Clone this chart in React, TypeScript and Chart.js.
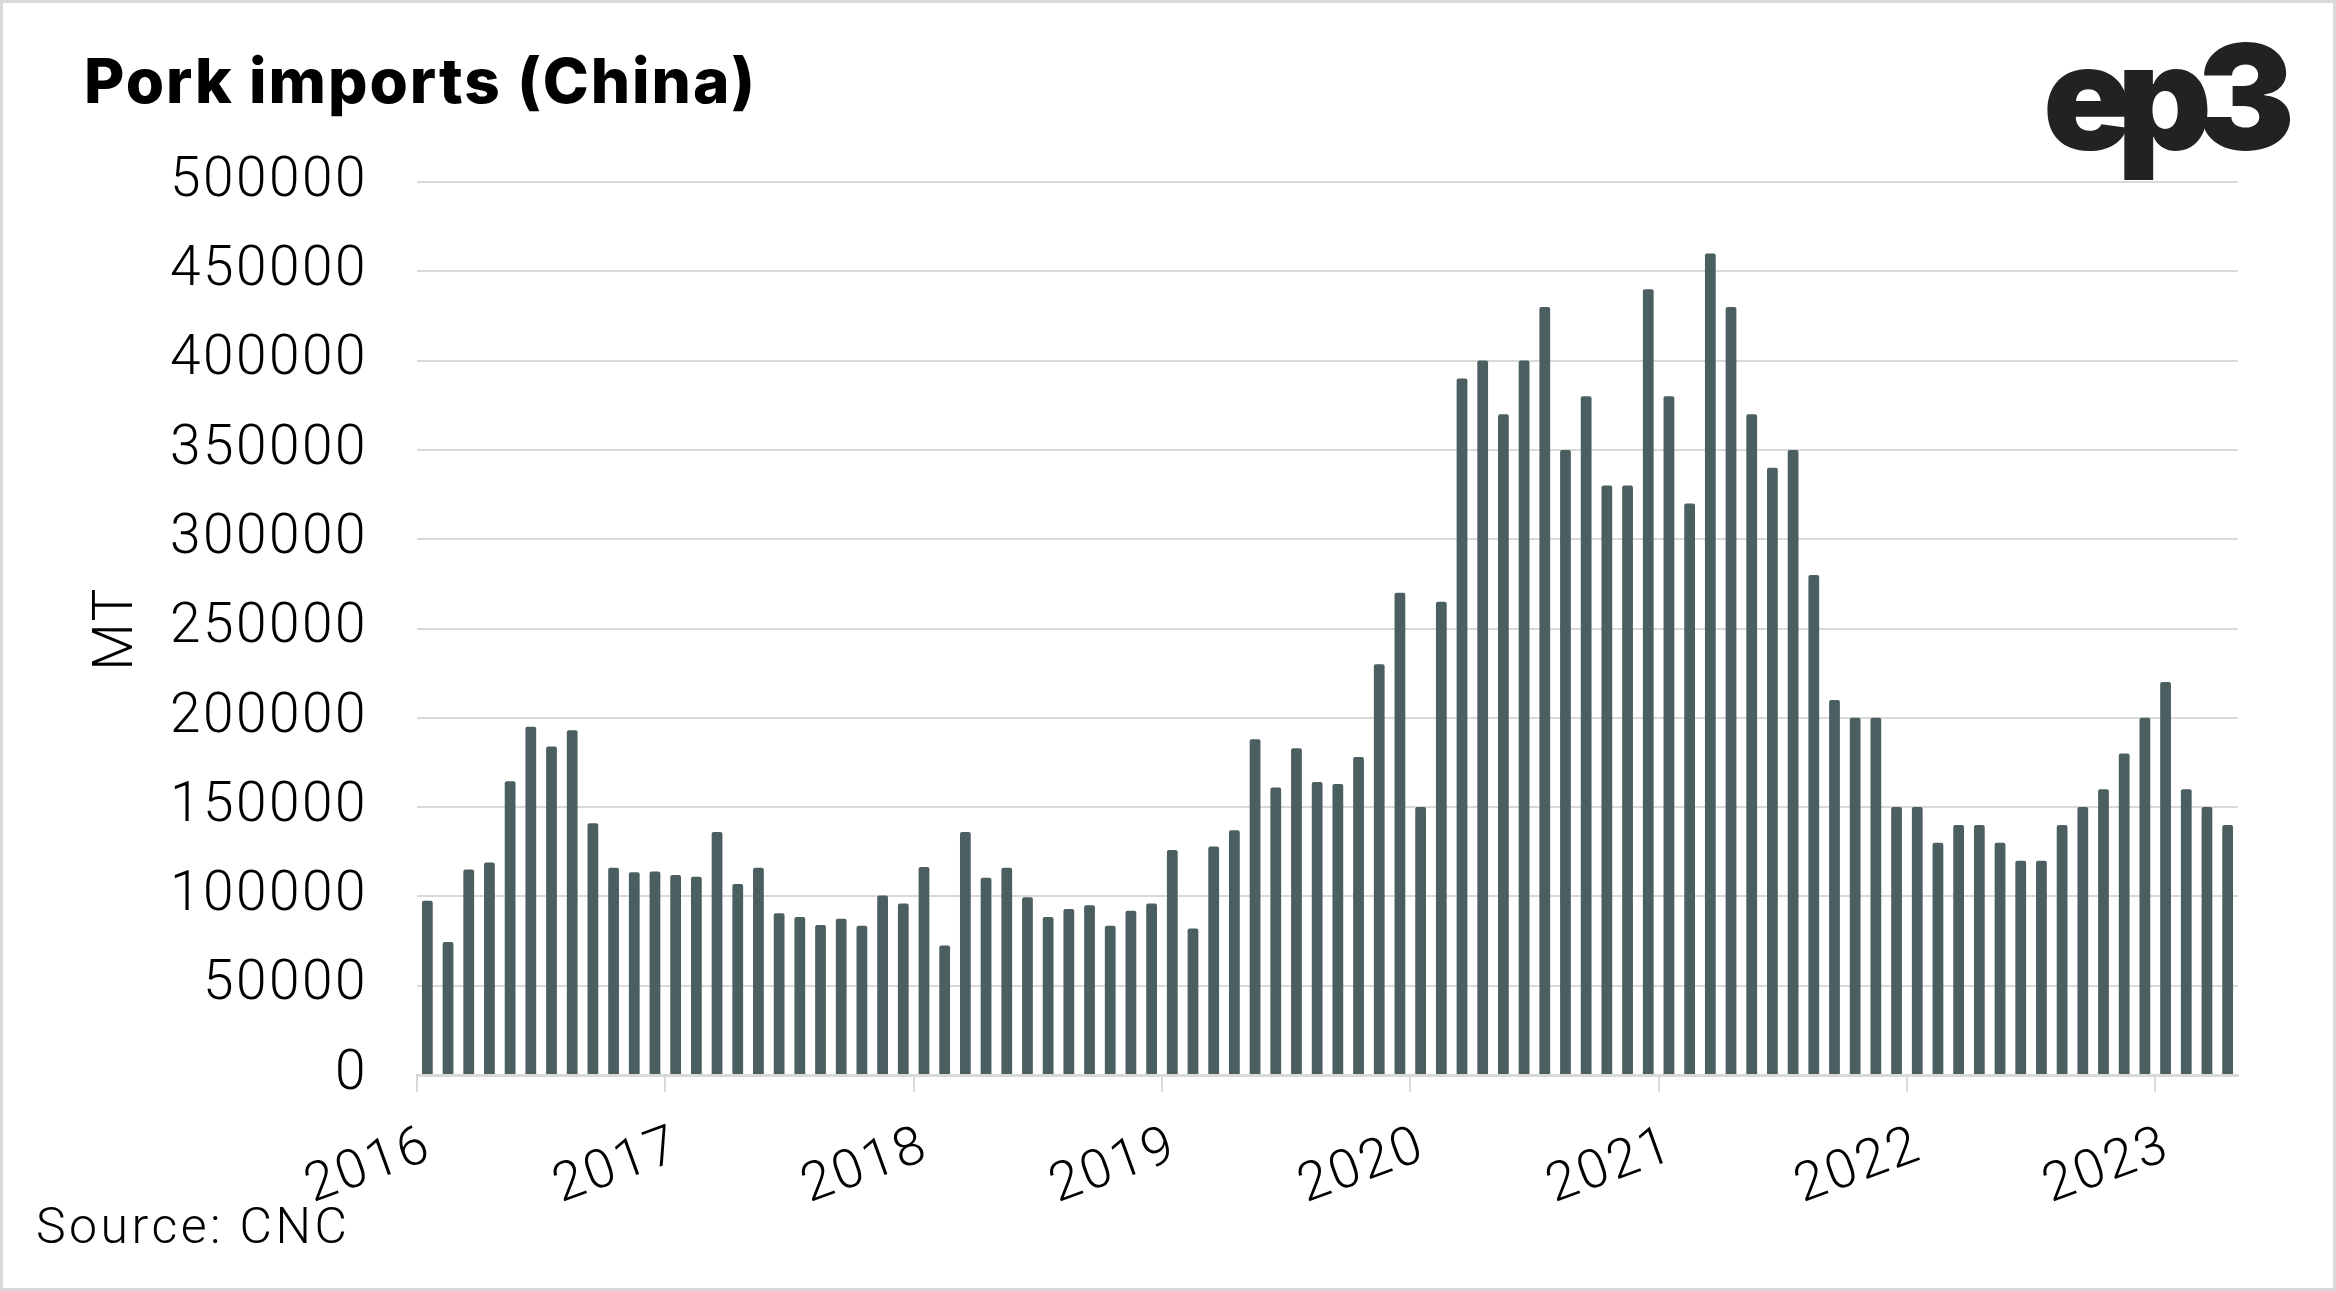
import React, { useEffect, useRef } from 'react';
import { Chart, registerables } from 'chart.js';

Chart.register(...registerables);

// ---- data (monthly pork imports, metric tonnes) ----
const yearLabels = ['2016', '2017', '2018', '2019', '2020', '2021', '2022', '2023'];
const imports2016 = [97500, 74500, 115000, 119000, 164500, 195000, 184000, 193000, 141000, 116000, 113500, 114000];
const imports2017 = [112000, 111000, 136000, 107000, 116000, 90500, 88500, 84000, 87500, 83500, 100500, 96000];
const imports2018 = [116500, 72500, 136000, 110500, 116000, 99500, 88500, 93000, 95000, 83500, 92000, 96000];
const imports2019 = [126000, 82000, 128000, 137000, 188000, 161000, 183000, 164000, 163000, 178000, 230000, 270000];
const imports2020 = [150000, 265000, 390000, 400000, 370000, 400000, 430000, 350000, 380000, 330000, 330000, 440000];
const imports2021 = [380000, 320000, 460000, 430000, 370000, 340000, 350000, 280000, 210000, 200000, 200000, 150000];
const imports2022 = [150000, 130000, 140000, 140000, 130000, 120000, 120000, 140000, 150000, 160000, 180000, 200000];
const imports2023 = [220000, 160000, 150000, 140000];
const yTickValues = [0, 50000, 100000, 150000, 200000, 250000, 300000, 350000, 400000, 450000, 500000];

const monthlyImports = [
  ...imports2016, ...imports2017, ...imports2018, ...imports2019,
  ...imports2020, ...imports2021, ...imports2022, ...imports2023,
];

const TITLE = 'Pork imports (China)';
const LOGO = 'ep3';
const SOURCE = 'Source: CNC';
const AXIS_TITLE = 'MT';

const W = 2336;
const H = 1291;

function fitText(ctx: CanvasRenderingContext2D, text: string, x: number, y: number, font: string, width: number, color: string) {
  ctx.font = font;
  (ctx as any).letterSpacing = '0px';
  const w = ctx.measureText(text).width;
  const ls = (width - w) / Math.max(1, text.length - 1);
  (ctx as any).letterSpacing = ls.toFixed(2) + 'px';
  ctx.fillStyle = color;
  ctx.textAlign = 'left';
  ctx.textBaseline = 'alphabetic';
  ctx.fillText(text, x, y);
  (ctx as any).letterSpacing = '0px';
}

export default function App() {
  const ref = useRef<HTMLCanvasElement>(null);

  useEffect(() => {
    const canvas = ref.current;
    if (!canvas) return;

    const decor = {
      id: 'decor',
      beforeDraw(chart: any) {
        const ctx = chart.ctx as CanvasRenderingContext2D;
        ctx.save();
        ctx.fillStyle = '#ffffff';
        ctx.fillRect(0, 0, W, H);
        ctx.restore();
        // slightly wider digit spacing for axis text
        (ctx as any).letterSpacing = '2.5px';
      },
      afterDraw(chart: any) {
        const ctx = chart.ctx as CanvasRenderingContext2D;
        (ctx as any).letterSpacing = '0px';
        ctx.save();
        fitText(ctx, TITLE, 84, 103, '800 62px Inter, Roboto, sans-serif', 671, '#000000');
        fitText(ctx, LOGO, 2043, 150, '900 147px Inter, Roboto, sans-serif', 252, '#222222');
        fitText(ctx, SOURCE, 36, 1243, '300 50px Roboto, sans-serif', 311, '#000000');
        ctx.strokeStyle = '#d9d9d9';
        ctx.lineWidth = 3;
        ctx.strokeRect(1.5, 1.5, W - 3, H - 3);
        ctx.restore();
      },
    };

    const chart = new Chart(canvas, {
      type: 'bar',
      data: {
        datasets: [
          {
            data: monthlyImports.map((v, i) => ({ x: i + 0.5, y: v })),
            backgroundColor: '#4b5e60',
            barPercentage: 0.52,
            categoryPercentage: 1,
            borderRadius: 2,
            borderSkipped: 'start',
          } as any,
        ],
      },
      options: {
        responsive: false,
        animation: false,
        devicePixelRatio: 1,
        layout: { padding: { left: 0, right: 98, top: 182, bottom: 0 } },
        plugins: {
          legend: { display: false },
          tooltip: { enabled: false },
          title: { display: false },
        },
        scales: {
          x: {
            type: 'linear',
            min: 0,
            max: monthlyImports.length,
            offset: false,
            afterBuildTicks: (axis: any) => {
              axis.ticks = yearLabels.map((_, k) => ({ value: k * 12 }));
            },
            afterFit: (axis: any) => {
              axis.height = 216;
            },
            ticks: {
              autoSkip: false,
              maxRotation: 20,
              minRotation: 20,
              padding: 23,
              labelOffset: 13,
              color: '#000000',
              font: { family: 'Roboto', size: 54, weight: '300' },
              callback: (v: any) => yearLabels[Math.round(Number(v) / 12)] ?? '',
            },
            grid: {
              drawOnChartArea: false,
              drawTicks: true,
              tickLength: 17,
              color: '#d9d9d9',
              lineWidth: 2,
              offset: false,
            },
            border: { display: true, color: '#d9d9d9', width: 3 },
          } as any,
          y: {
            min: 0,
            max: 500000,
            afterBuildTicks: (axis: any) => {
              axis.ticks = yTickValues.map((v) => ({ value: v }));
            },
            afterFit: (axis: any) => {
              axis.width = 417;
            },
            ticks: {
              padding: 49,
              color: '#000000',
              font: { family: 'Roboto', size: 55, weight: '300' },
              callback: (v: any) => String(v),
            },
            grid: { drawTicks: false, color: '#d9d9d9', lineWidth: 2 },
            border: { display: false },
            title: {
              display: true,
              text: AXIS_TITLE,
              color: '#000000',
              font: { family: 'Roboto', size: 55, weight: '300' },
              padding: { top: 85, bottom: 0 },
            },
          } as any,
        },
      },
      plugins: [decor],
    });

    return () => chart.destroy();
  }, []);

  return (
    <div style={{ position: 'fixed', left: 0, top: 0, width: W, height: H, background: '#ffffff' }}>
      <canvas ref={ref} width={W} height={H} style={{ display: 'block', width: W, height: H }} />
    </div>
  );
}
